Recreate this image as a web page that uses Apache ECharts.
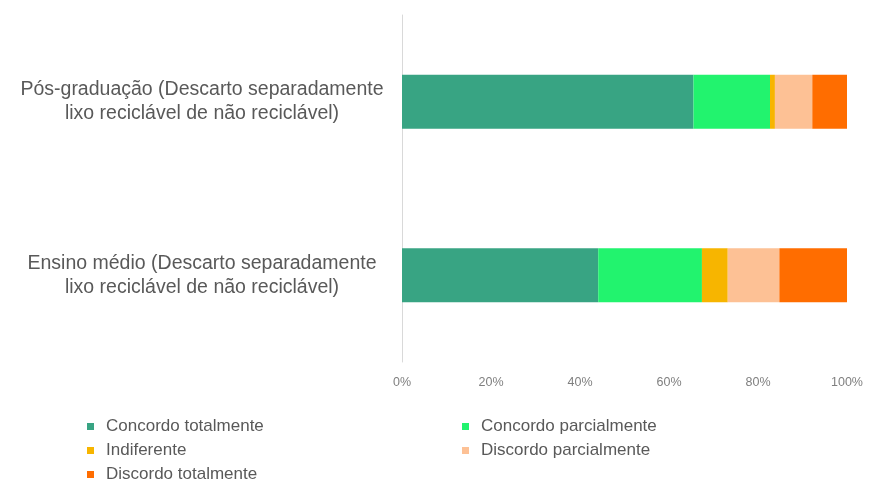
<!DOCTYPE html>
<html>
<head>
<meta charset="utf-8">
<script src="https://cdn.jsdelivr.net/npm/echarts@6/dist/echarts.min.js"></script>
<style>
  html, body { margin: 0; padding: 0; background: #ffffff; }
  #chart { width: 871px; height: 484px; }
</style>
</head>
<body>
<div id="chart"></div>
<script>
// Categories, bottom to top
const categories = [
  'Ensino médio (Descarto separadamente\nlixo reciclável de não reciclável)',
  'Pós-graduação (Descarto separadamente\nlixo reciclável de não reciclável)'
];

// Share of answers (%) for each category, in the same order
const concordoTotalmente   = [44.1, 65.5];
const concordoParcialmente = [23.3, 17.2];
const indiferente          = [5.8, 1.1];
const discordoParcialmente = [11.6, 8.4];
const discordoTotalmente   = [15.2, 7.8];

const seriesNames = [
  'Concordo totalmente',
  'Concordo parcialmente',
  'Indiferente',
  'Discordo parcialmente',
  'Discordo totalmente'
];
const seriesValues = [
  concordoTotalmente,
  concordoParcialmente,
  indiferente,
  discordoParcialmente,
  discordoTotalmente
];
const colors = ['#38a483', '#22f36e', '#f7b500', '#fdc195', '#ff6d00'];

const xTicks = { min: 0, max: 100, interval: 20 };

const fontFamily = '"Liberation Sans", Arial, sans-serif';
const textGray = '#595959';

const legendText = {
  color: textGray,
  fontSize: 17,
  lineHeight: 17,
  padding: [0, 0, 0, 7],
  fontFamily: fontFamily
};

const chart = echarts.init(document.getElementById('chart'));

chart.setOption({
  backgroundColor: '#ffffff',
  animation: false,
  color: colors,
  textStyle: { fontFamily: fontFamily },
  grid: { left: 402, right: 24, top: 15, bottom: 122 },
  xAxis: {
    type: 'value',
    min: xTicks.min,
    max: xTicks.max,
    interval: xTicks.interval,
    axisLine: { show: false },
    axisTick: { show: false },
    splitLine: { show: false },
    axisLabel: {
      formatter: '{value}%',
      color: '#7f7f7f',
      fontSize: 12.5,
      margin: 14,
      fontFamily: fontFamily
    }
  },
  yAxis: {
    type: 'category',
    data: categories,
    axisLine: { show: true, lineStyle: { color: '#d9d9d9', width: 1 } },
    axisTick: { show: false },
    axisLabel: {
      color: textGray,
      fontSize: 19.5,
      lineHeight: 24,
      align: 'center',
      margin: 200,
      fontFamily: fontFamily
    }
  },
  legend: [
    {
      data: [seriesNames[0], seriesNames[2], seriesNames[4]],
      orient: 'vertical',
      left: 87,
      top: 418,
      height: 66,
      padding: 0,
      icon: 'rect',
      itemWidth: 7,
      itemHeight: 7,
      itemGap: 7,
      textStyle: legendText
    },
    {
      data: [seriesNames[1], seriesNames[3]],
      orient: 'vertical',
      left: 462,
      top: 418,
      height: 66,
      padding: 0,
      icon: 'rect',
      itemWidth: 7,
      itemHeight: 7,
      itemGap: 7,
      textStyle: legendText
    }
  ],
  series: seriesNames.map((name, i) => ({
    name: name,
    type: 'bar',
    stack: 'total',
    barWidth: 54,
    data: seriesValues[i],
    itemStyle: { color: colors[i] }
  }))
});
</script>
</body>
</html>
